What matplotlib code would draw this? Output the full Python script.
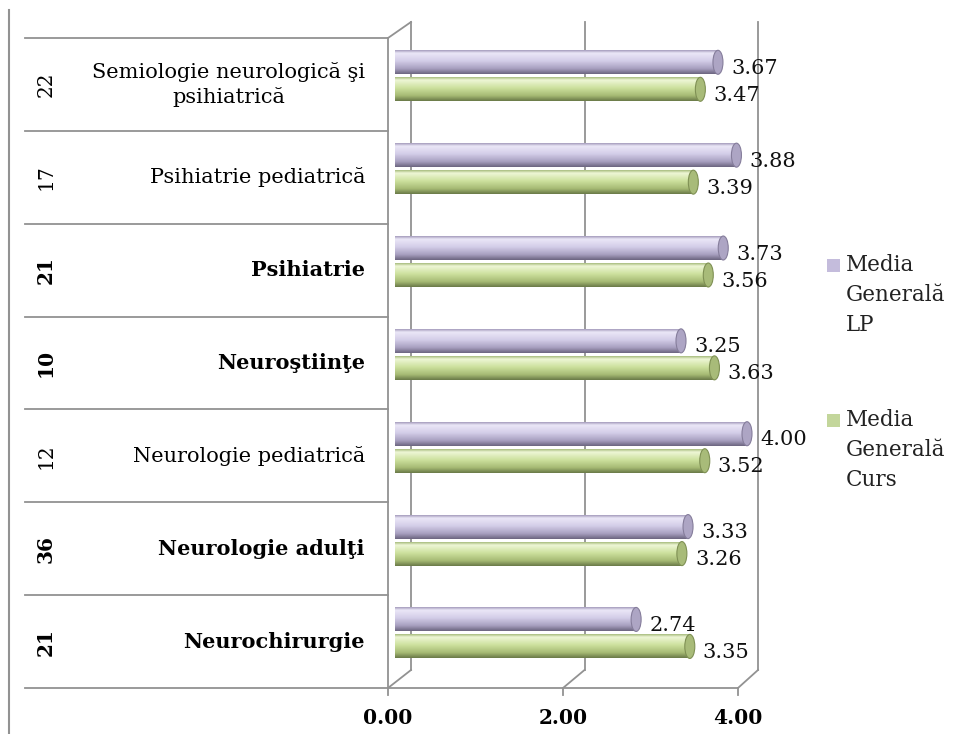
import numpy as np
import matplotlib
matplotlib.use("Agg")
import matplotlib.pyplot as plt
from matplotlib.patches import Ellipse, Rectangle
from matplotlib.lines import Line2D
from matplotlib.colors import LinearSegmentedColormap

# date (de jos in sus)
categorii = ["Neurochirurgie", "Neurologie adulţi", "Neurologie pediatrică",
             "Neuroştiinţe", "Psihiatrie", "Psihiatrie pediatrică",
             "Semiologie neurologică şi\npsihiatrică"]
respondenti = [21, 36, 12, 10, 21, 17, 22]
ingrosat = [True, True, False, True, True, False, False]
media_lp = [2.74, 3.33, 4.00, 3.25, 3.73, 3.88, 3.67]
media_curs = [3.35, 3.26, 3.52, 3.63, 3.56, 3.39, 3.47]
ticks = [0, 2, 4]
serii = ["Media\nGenerală\nLP", "Media\nGenerală\nCurs"]

W, H = 956, 734
SERIF = "DejaVu Serif"
GRI = "#929292"

fig = plt.figure(figsize=(W / 100, H / 100), dpi=100)
ax = fig.add_axes([395 / W, (H - 688) / H, 4.6 * 88 / W, 650 / H])
ax.set_xlim(0, 4.6)
ax.set_ylim(-0.593, 6.407)
ax.axis("off")

xpp = 1 / 88          # unitati x pe pixel
ypp = 7.0 / 650       # unitati y pe pixel
ybot, ytop = ax.get_ylim()

def fx_back(v):
    return v * 86.75 / 88 + 16 * xpp

def fx_front(v):
    return v * 87.5 / 88 - 7 * xpp

def linie(xs, ys, **kw):
    ax.add_line(Line2D(xs, ys, color=GRI, lw=1.3, clip_on=False, zorder=1, **kw))

# cadrul 3D
for v in ticks:
    linie([fx_back(v), fx_back(v)], [ybot + 18 * ypp, ytop + 16 * ypp])
    linie([fx_front(v), fx_back(v)], [ybot, ybot + 18 * ypp])
    linie([fx_front(v), fx_front(v)], [ybot, ybot - 7 * ypp])
    ax.text(fx_front(v), ybot - 30 * ypp, f"{v:.2f}", ha="center", va="center",
            fontsize=14.5, fontweight="bold", family=SERIF)
linie([fx_front(0), fx_front(0)], [ybot, ytop])
linie([fx_front(0), fx_back(0)], [ytop, ytop + 16 * ypp])
linie([fx_front(0), fx_front(4)], [ybot, ybot])

# separatori categorii
for k in range(len(categorii) + 1):
    linie([(25 - 395) * xpp, fx_front(0)], [ybot + k, ybot + k])

# bare cilindrice
cm_lp = LinearSegmentedColormap.from_list("lp", [
    (0.0, "#a59dbd"), (0.12, "#ebe7f7"), (0.45, "#d3cde8"),
    (0.78, "#a79fbf"), (1.0, "#6c6580")])
cm_curs = LinearSegmentedColormap.from_list("curs", [
    (0.0, "#a9bd7f"), (0.12, "#eef6d6"), (0.45, "#cde19e"),
    (0.78, "#a6ba74"), (1.0, "#6a7a48")])

poz = np.arange(len(categorii))
bh = 24 * ypp
grad = np.linspace(0, 1, 64).reshape(-1, 1)

for vals, yy, cm, cap, capm in [
        (media_lp, poz + 13.5 * ypp, cm_lp, "#ada5c4", "#857d9b"),
        (media_curs, poz - 13.5 * ypp, cm_curs, "#a8bb79", "#7f9054")]:
    bare = ax.barh(yy, vals, height=bh, color=cm(0.45), edgecolor="none", zorder=3)
    for b, v, y in zip(bare, vals, yy):
        im = ax.imshow(grad, cmap=cm, extent=[0, v, y - bh / 2, y + bh / 2],
                       aspect="auto", origin="upper", interpolation="bilinear", zorder=3)
        im.set_clip_path(b)
        ax.add_patch(Ellipse((v, y), 10 * xpp, bh, facecolor=cap, edgecolor=capm,
                             lw=0.8, zorder=4))
        ax.annotate(f"{v:.2f}", xy=(v, y), xytext=(13, -6), textcoords="offset pixels",
                    ha="left", va="center", fontsize=15, family=SERIF,
                    color="#111111", zorder=5)

ax.set_xlim(0, 4.6)
ax.set_ylim(ybot, ytop)

# etichete categorii si numar respondenti
for i, (c, n, b) in enumerate(zip(categorii, respondenti, ingrosat)):
    yc = poz[i] - 0.093
    w = "bold" if b else "normal"
    ax.text((365 - 395) * xpp, yc, c, ha="right", va="center", multialignment="center",
            fontsize=15, fontweight=w, family=SERIF, linespacing=1.3)
    ax.text((46 - 395) * xpp, yc, str(n), ha="center", va="center", rotation=90,
            fontsize=14.5, fontweight=w, family=SERIF)

# legenda
for lab, col, yc in [(serii[0], "#c4bcdc", 295), (serii[1], "#c3d69b", 450)]:
    fig.patches.append(Rectangle((827 / W, 1 - (yc - 30 + 7) / H), 13 / W, 13 / H,
                                 transform=fig.transFigure, facecolor=col,
                                 edgecolor="none"))
    fig.text(846 / W, 1 - yc / H, lab, ha="left", va="center", fontsize=15.5,
             family=SERIF, linespacing=1.45, color="#222222")

# chenar stanga
fig.add_artist(Line2D([9 / W, 9 / W], [0, 1 - 10 / H], color=GRI, lw=1.5,
                      transform=fig.transFigure))

fig.savefig("out.png", dpi=100, facecolor="white")
